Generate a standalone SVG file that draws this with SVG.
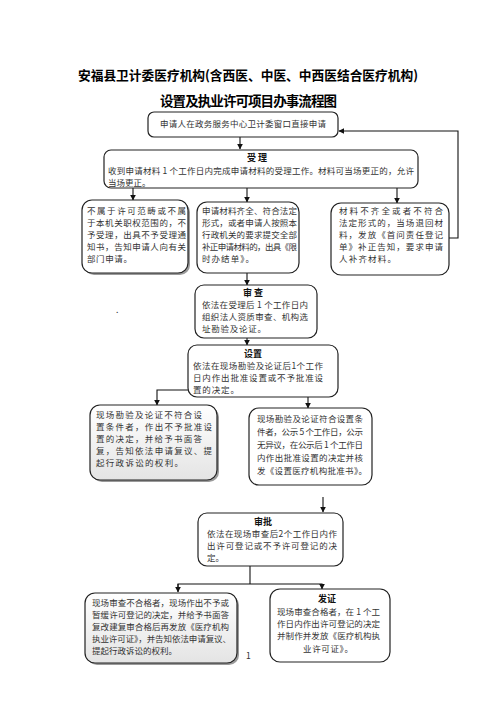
<svg xmlns="http://www.w3.org/2000/svg" width="496" height="702" viewBox="0 0 496 702">
<defs>
<marker id="ah" viewBox="0 0 10 10" refX="9" refY="5" markerWidth="6" markerHeight="6" orient="auto" markerUnits="userSpaceOnUse"><path d="M0,0 L10,5 L0,10 z" fill="#111"/></marker>
<linearGradient id="gr" x1="0" y1="0" x2="0" y2="1"><stop offset="0" stop-color="#ffffff"/><stop offset="1" stop-color="#e4e4e4"/></linearGradient>
</defs>
<style>
.b{fill:#fff;stroke:#222;stroke-width:1.2}
.g{fill:url(#gr);stroke:#222;stroke-width:1.2}
.sh{fill:#9a9a9a}
.t{font-family:"Noto Sans CJK SC","Noto Sans",sans-serif;font-size:8.5px;fill:#333}
.h{font-family:"Noto Sans CJK SC","Noto Sans",sans-serif;font-size:9px;font-weight:bold;fill:#111;text-anchor:middle}
.ti{font-family:"Noto Sans CJK SC","Noto Sans",sans-serif;font-weight:bold;fill:#000}
.c{fill:none;stroke:#111;stroke-width:1.1}
</style>
<rect width="496" height="702" fill="#fff"/>
<text class="ti" x="78" y="80" font-size="13" textLength="340" lengthAdjust="spacingAndGlyphs">安福县卫计委医疗机构(含西医、中医、中西医结合医疗机构)</text>
<text class="ti" x="160" y="106" font-size="13.5" textLength="177" lengthAdjust="spacing">设置及执业许可项目办事流程图</text>

<g id="connectors">
<line class="c" x1="240" y1="137" x2="240" y2="149" marker-end="url(#ah)"/>
<polyline class="c" points="449,238 458,238 458,131 339,131" marker-end="url(#ah)"/>
<line class="c" x1="133" y1="188" x2="133" y2="200" marker-end="url(#ah)"/>
<line class="c" x1="247" y1="188" x2="247" y2="202" marker-end="url(#ah)"/>
<line class="c" x1="397" y1="188" x2="397" y2="203" marker-end="url(#ah)"/>
<line class="c" x1="247" y1="273" x2="247" y2="285" marker-end="url(#ah)"/>
<line class="c" x1="247" y1="338" x2="247" y2="345" marker-end="url(#ah)"/>
<polyline class="c" points="188,390 157,390 157,405" marker-end="url(#ah)"/>
<line class="c" x1="308" y1="397" x2="308" y2="408" marker-end="url(#ah)"/>
<line class="c" x1="323" y1="497" x2="323" y2="512" marker-end="url(#ah)"/>
<line class="c" x1="250" y1="566" x2="250" y2="584"/>
<polyline class="c" points="178,590 178,584 322,584 322,589" marker-end="url(#ah)"/>
<line class="c" x1="178" y1="584" x2="178" y2="592" marker-end="url(#ah)"/>
</g>

<g id="n1">
<rect class="b" x="148" y="112" width="190" height="25" rx="6"/>
<text class="t" x="160" y="127" textLength="166" lengthAdjust="spacing">申请人在政务服务中心卫计委窗口直接申请</text>
</g>

<g id="n2">
<rect class="b" x="104" y="150" width="314" height="38" rx="7"/>
<text class="h" x="257" y="161" font-size="9.5">受 理</text>
<text class="t" x="108" y="174" textLength="306" lengthAdjust="spacing">收到申请材料 1 个工作日内完成申请材料的受理工作。材料可当场更正的，允许</text>
<text class="t" x="108" y="186">当场更正。</text>
</g>

<g id="n3a">
<rect class="sh" x="84" y="202" width="106" height="73" rx="10"/>
<rect class="b" x="82" y="200" width="106" height="73" rx="10"/>
<text class="t" x="87" y="214" textLength="99" lengthAdjust="spacing">不属于许可范畴或不属</text>
<text class="t" x="87" y="226" textLength="99" lengthAdjust="spacing">于本机关职权范围的，不</text>
<text class="t" x="87" y="238" textLength="99" lengthAdjust="spacing">予受理，出具不予受理通</text>
<text class="t" x="87" y="250" textLength="99" lengthAdjust="spacing">知书，告知申请人向有关</text>
<text class="t" x="87" y="262" textLength="45" lengthAdjust="spacing">部门申请。</text>
</g>

<g id="n3b">
<rect class="b" x="197" y="202" width="102" height="71" rx="10"/>
<text class="t" x="202" y="214" textLength="95" lengthAdjust="spacing">申请材料齐全、符合法定</text>
<text class="t" x="202" y="226" textLength="95" lengthAdjust="spacing">形式，或者申请人按照本</text>
<text class="t" x="202" y="238" textLength="95" lengthAdjust="spacing">行政机关的要求提交全部</text>
<text class="t" x="202" y="250" textLength="95" lengthAdjust="spacing">补正申请材料的，出具《限</text>
<text class="t" x="202" y="262" textLength="52" lengthAdjust="spacing">时办结单》。</text>
</g>

<g id="n3c">
<rect class="b" x="331" y="203" width="118" height="72" rx="10"/>
<text class="t" x="339" y="214" textLength="104" lengthAdjust="spacing">材料不齐全或者不符合</text>
<text class="t" x="339" y="226" textLength="104" lengthAdjust="spacing">法定形式的，当场退回材</text>
<text class="t" x="339" y="238" textLength="104" lengthAdjust="spacing">料，发放《首问责任登记</text>
<text class="t" x="339" y="250" textLength="104" lengthAdjust="spacing">单》补正告知，要求申请</text>
<text class="t" x="339" y="262" textLength="57" lengthAdjust="spacing">人补齐材料。</text>
</g>

<text class="t" x="116" y="313">.</text>

<g id="n4">
<rect class="b" x="195" y="285" width="122" height="53" rx="9"/>
<text class="h" x="253" y="296">审 查</text>
<text class="t" x="202" y="308" textLength="106" lengthAdjust="spacing">依法在受理后 1 个工作日内</text>
<text class="t" x="202" y="320" textLength="106" lengthAdjust="spacing">组织法人资质审查、机构选</text>
<text class="t" x="202" y="332" textLength="64" lengthAdjust="spacing">址勘验及论证。</text>
</g>

<g id="n5">
<rect class="b" x="188" y="345" width="150" height="52" rx="9"/>
<text class="h" x="253" y="357">设置</text>
<text class="t" x="193" y="369" textLength="130" lengthAdjust="spacing">依法在现场勘验及论证后1个工作</text>
<text class="t" x="193" y="381" textLength="130" lengthAdjust="spacing">日内作出批准设置或不予批准设</text>
<text class="t" x="193" y="393" textLength="46" lengthAdjust="spacing">置的决定。</text>
</g>

<g id="n6a">
<rect class="sh" x="92" y="407" width="127" height="75" rx="10"/>
<rect class="g" x="90" y="405" width="127" height="75" rx="10"/>
<text class="t" x="96" y="418" textLength="106" lengthAdjust="spacing">现场勘验及论证不符合设</text>
<text class="t" x="96" y="430" textLength="116" lengthAdjust="spacing">置条件者，作出不予批准设</text>
<text class="t" x="96" y="442" textLength="106" lengthAdjust="spacing">置的决定，并给予书面答</text>
<text class="t" x="96" y="454" textLength="116" lengthAdjust="spacing">复，告知依法申请复议、提</text>
<text class="t" x="96" y="466" textLength="87" lengthAdjust="spacing">起行政诉讼的权利。</text>
</g>

<g id="n6b">
<rect class="b" x="249" y="408" width="123" height="77" rx="10"/>
<text class="t" x="257" y="422" textLength="106" lengthAdjust="spacing">现场勘验及论证符合设置条</text>
<text class="t" x="257" y="435" textLength="106" lengthAdjust="spacing">件者，公示 5 个工作日，公示</text>
<text class="t" x="257" y="448" textLength="106" lengthAdjust="spacing">无异议，在公示后 1 个工作日</text>
<text class="t" x="257" y="461" textLength="106" lengthAdjust="spacing">内作出批准设置的决定并核</text>
<text class="t" x="257" y="474" textLength="110" lengthAdjust="spacing">发《设置医疗机构批准书》。</text>
</g>

<g id="n7">
<rect class="b" x="198" y="513" width="145" height="53" rx="9"/>
<text class="h" x="263" y="525">审批</text>
<text class="t" x="207" y="537" textLength="130" lengthAdjust="spacing">依法在现场审查后2个工作日内作</text>
<text class="t" x="207" y="549" textLength="130" lengthAdjust="spacing">出许可登记或不予许可登记的决</text>
<text class="t" x="207" y="561">定。</text>
</g>

<g id="n8a">
<rect class="sh" x="87" y="595" width="152" height="70" rx="10"/>
<rect class="g" x="85" y="593" width="152" height="70" rx="10"/>
<text class="t" x="92" y="606" textLength="137" lengthAdjust="spacing">现场审查不合格者，现场作出不予或</text>
<text class="t" x="92" y="618" textLength="137" lengthAdjust="spacing">暂缓许可登记的决定，并给予书面答</text>
<text class="t" x="92" y="630" textLength="137" lengthAdjust="spacing">复改建复审合格后再发放《医疗机构</text>
<text class="t" x="92" y="642" textLength="139" lengthAdjust="spacing">执业许可证》，并告知依法申请复议、</text>
<text class="t" x="92" y="654" textLength="85" lengthAdjust="spacing">提起行政诉讼的权利。</text>
</g>

<g id="n8b">
<rect class="b" x="270" y="589" width="120" height="73" rx="10"/>
<text class="h" x="327" y="602" font-size="9.5">发证</text>
<text class="t" x="277" y="615" textLength="103" lengthAdjust="spacing">现场审查合格者，在 1 个工</text>
<text class="t" x="277" y="627" textLength="103" lengthAdjust="spacing">作日内作出许可登记的决定</text>
<text class="t" x="277" y="639" textLength="103" lengthAdjust="spacing">并制作并发放《医疗机构执</text>
<text class="t" x="303" y="652" textLength="50" lengthAdjust="spacing">业许可证》。</text>
</g>

<text class="t" x="246" y="659" font-size="7">1</text>
</svg>
